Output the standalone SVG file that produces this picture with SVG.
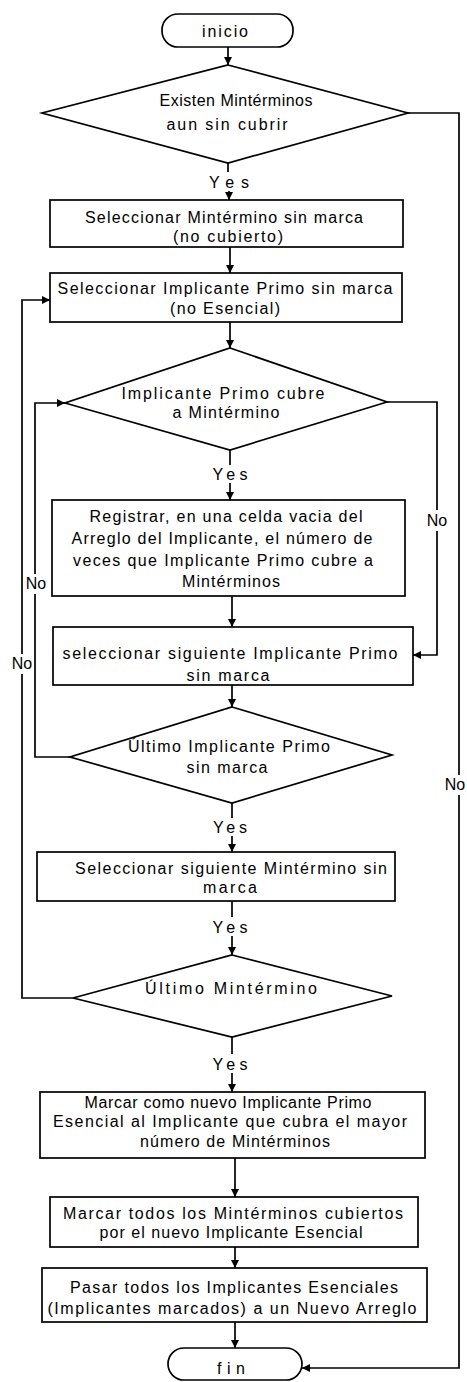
<svg xmlns="http://www.w3.org/2000/svg" width="467" height="1382" viewBox="0 0 467 1382">
<style>
.s{fill:#fff;stroke:#000;stroke-width:1.7}
.t{font-family:"Liberation Sans",Arial,sans-serif;font-size:16px;fill:#000;text-anchor:middle}
.c{fill:none;stroke:#000;stroke-width:1.7}
</style>
<defs>
<marker id="a" viewBox="0 0 10 10" refX="10" refY="5" markerWidth="8" markerHeight="8" markerUnits="userSpaceOnUse" orient="auto"><path d="M0,0L10,5L0,10z" fill="#000"/></marker>
</defs>
<rect width="467" height="1382" fill="#fff"/>
<g id="connectors">
<path class="c" d="M228,47V65" marker-end="url(#a)"/>
<path class="c" d="M228,163V172"/>
<path class="c" d="M229,191V200" marker-end="url(#a)"/>
<path class="c" d="M230,247V273" marker-end="url(#a)"/>
<path class="c" d="M230,322V348" marker-end="url(#a)"/>
<path class="c" d="M230,450V465"/>
<path class="c" d="M230,483V500" marker-end="url(#a)"/>
<path class="c" d="M232,596V627" marker-end="url(#a)"/>
<path class="c" d="M232,685V707" marker-end="url(#a)"/>
<path class="c" d="M232,803V818"/>
<path class="c" d="M232,836V852" marker-end="url(#a)"/>
<path class="c" d="M232,901V917"/>
<path class="c" d="M232,936V955" marker-end="url(#a)"/>
<path class="c" d="M232,1037V1054"/>
<path class="c" d="M232,1073V1092" marker-end="url(#a)"/>
<path class="c" d="M235,1158V1197" marker-end="url(#a)"/>
<path class="c" d="M235,1247V1268" marker-end="url(#a)"/>
<path class="c" d="M235,1322V1348" marker-end="url(#a)"/>
<path class="c" d="M408,113H459V775"/>
<path class="c" d="M459,795V1368H302" marker-end="url(#a)"/>
<path class="c" d="M387,402H437V510"/>
<path class="c" d="M437,531V655H413" marker-end="url(#a)"/>
<path class="c" d="M70,757H35V594"/>
<path class="c" d="M35,574V403H65" marker-end="url(#a)"/>
<path class="c" d="M73,998H22V674"/>
<path class="c" d="M22,654V300H50" marker-end="url(#a)"/>
<text class="t" x="437" y="526">No</text>
<text class="t" x="36" y="589">No</text>
<text class="t" x="22" y="669">No</text>
<text class="t" x="455" y="790">No</text>
<text class="t" x="229" y="188" textLength="40" lengthAdjust="spacing">Yes</text>
<text class="t" x="230" y="480" textLength="35" lengthAdjust="spacing">Yes</text>
<text class="t" x="230" y="833" textLength="34" lengthAdjust="spacing">Yes</text>
<text class="t" x="230" y="933" textLength="35" lengthAdjust="spacing">Yes</text>
<text class="t" x="230" y="1070" textLength="35" lengthAdjust="spacing">Yes</text>
</g>
<g id="inicio">
<rect class="s" x="162" y="14" width="131" height="33" rx="16"/>
<text class="t" x="225" y="37" textLength="46" lengthAdjust="spacing">inicio</text>
</g>
<g id="d1">
<polygon class="s" points="228,65 408,113 228,163 42,113"/>
<text class="t" x="236" y="106" textLength="153" lengthAdjust="spacing">Existen Mintérminos</text>
<text class="t" x="227" y="130" textLength="121" lengthAdjust="spacing">aun sin cubrir</text>
</g>
<g id="b1">
<rect class="s" x="50" y="200" width="353" height="47"/>
<text class="t" x="224" y="223" textLength="278" lengthAdjust="spacing">Seleccionar Mintérmino sin marca</text>
<text class="t" x="228" y="242" textLength="110" lengthAdjust="spacing">(no cubierto)</text>
</g>
<g id="b2">
<rect class="s" x="50" y="273" width="352" height="49"/>
<text class="t" x="225" y="294" textLength="335" lengthAdjust="spacing">Seleccionar Implicante Primo sin marca</text>
<text class="t" x="225" y="314" textLength="110" lengthAdjust="spacing">(no Esencial)</text>
</g>
<g id="d2">
<polygon class="s" points="230,348 387,402 230,450 65,403"/>
<text class="t" x="223" y="399" textLength="203" lengthAdjust="spacing">Implicante Primo cubre</text>
<text class="t" x="226" y="418" textLength="107" lengthAdjust="spacing">a Mintérmino</text>
</g>
<g id="b3">
<rect class="s" x="52" y="500" width="353" height="96"/>
<text class="t" x="226" y="522" textLength="273" lengthAdjust="spacing">Registrar, en una celda vacia del</text>
<text class="t" x="222" y="544" textLength="301" lengthAdjust="spacing">Arreglo del Implicante, el número de</text>
<text class="t" x="223" y="566" textLength="300" lengthAdjust="spacing">veces que Implicante Primo cubre a</text>
<text class="t" x="231" y="587" textLength="98" lengthAdjust="spacing">Mintérminos</text>
</g>
<g id="b4">
<rect class="s" x="53" y="627" width="360" height="58"/>
<text class="t" x="230" y="659" textLength="335" lengthAdjust="spacing">seleccionar siguiente Implicante Primo</text>
<text class="t" x="228" y="681" textLength="83" lengthAdjust="spacing">sin marca</text>
</g>
<g id="d3">
<polygon class="s" points="232,707 392,755 232,803 70,757"/>
<text class="t" x="229" y="752" textLength="202" lengthAdjust="spacing">Último Implicante Primo</text>
<text class="t" x="227" y="773" textLength="81" lengthAdjust="spacing">sin marca</text>
</g>
<g id="b5">
<rect class="s" x="37" y="852" width="358" height="49"/>
<text class="t" x="231" y="874" textLength="312" lengthAdjust="spacing">Seleccionar siguiente Mintérmino sin</text>
<text class="t" x="230" y="893" textLength="54" lengthAdjust="spacing">marca</text>
</g>
<g id="d4">
<polygon class="s" points="232,955 392,996 232,1037 73,998"/>
<text class="t" x="231" y="994" textLength="172" lengthAdjust="spacing">Último Mintérmino</text>
</g>
<g id="b6">
<rect class="s" x="40" y="1092" width="385" height="66"/>
<text class="t" x="228" y="1108" textLength="287" lengthAdjust="spacing">Marcar como nuevo Implicante Primo</text>
<text class="t" x="230" y="1127" textLength="354" lengthAdjust="spacing">Esencial al Implicante que cubra el mayor</text>
<text class="t" x="235" y="1147" textLength="190" lengthAdjust="spacing">número de Mintérminos</text>
</g>
<g id="b7">
<rect class="s" x="50" y="1197" width="368" height="50"/>
<text class="t" x="233" y="1219" textLength="340" lengthAdjust="spacing">Marcar todos los Mintérminos cubiertos</text>
<text class="t" x="231" y="1238" textLength="263" lengthAdjust="spacing">por el nuevo Implicante Esencial</text>
</g>
<g id="b8">
<rect class="s" x="42" y="1268" width="385" height="54"/>
<text class="t" x="234" y="1293" textLength="328" lengthAdjust="spacing">Pasar todos los Implicantes Esenciales</text>
<text class="t" x="232" y="1314" textLength="369" lengthAdjust="spacing">(Implicantes marcados) a un Nuevo Arreglo</text>
</g>
<g id="fin">
<rect class="s" x="168" y="1348" width="134" height="32" rx="16"/>
<text class="t" x="231" y="1374" textLength="28" lengthAdjust="spacing">fin</text>
</g>
</svg>
